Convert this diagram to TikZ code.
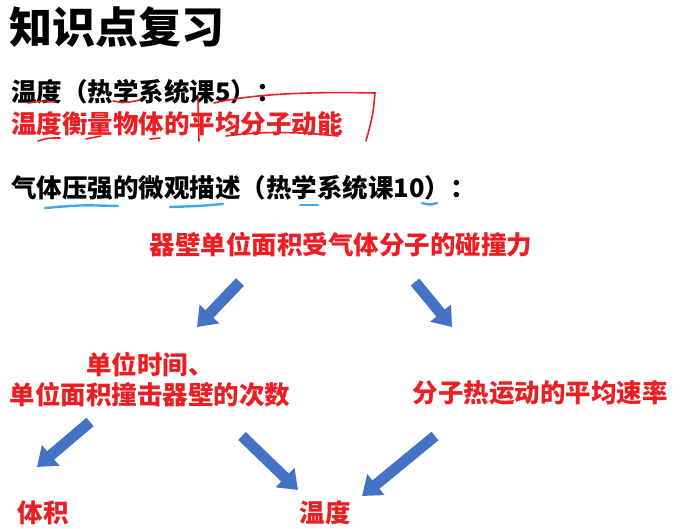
\documentclass[tikz,border=0pt]{standalone}
\usepackage{fontspec}
\setmainfont{Noto Sans CJK SC}
\usetikzlibrary{arrows.meta}
\definecolor{rd}{RGB}{235,30,35}
\definecolor{ab}{RGB}{68,114,196}
\definecolor{lb}{RGB}{60,170,230}
\tikzset{
  t/.style={anchor=west,inner sep=0pt,font=\fontsize{25.5}{28}\selectfont\bfseries},
  rt/.style={t,text=rd},
  bigarrow/.style={draw=ab,line width=11pt,-{Triangle[width=26pt,length=18pt]}},
  redpen/.style={draw=rd,line width=1.6pt,line cap=round},
  bluepen/.style={draw=lb,line width=2.4pt,line cap=round}
}
\begin{document}
\begin{tikzpicture}[x=1pt,y=-1pt]
\useasboundingbox (0,0) rectangle (684,528);
\node[anchor=west,inner sep=0pt,font=\fontsize{43}{46}\selectfont\bfseries] (title) at (9,27) {知识点复习};
\node[t] (l1) at (11,92) {温度（热学系统课5）：};
\node[rt] (l2) at (11,124) {温度衡量物体的平均分子动能};
\node[t] (l3) at (11,188) {气体压强的微观描述（热学系统课10）：};
% red pen marks
\draw[redpen] (28,103) .. controls (40,101) .. (55,102);
\draw[redpen] (113,101) .. controls (125,103) .. (140,100);
\draw[redpen] (38,141) .. controls (48,138) .. (60,138);
\draw[redpen] (86,139) .. controls (93,137) .. (101,136);
\draw[redpen] (150,139) -- (160,138);
\draw[redpen] (226,136) .. controls (270,130) and (310,133) .. (338,136);
\draw[redpen] (198,99) -- (199,141);
\draw[redpen] (214,103) .. controls (260,92) and (330,92) .. (375,93) .. controls (373,115) .. (366,141);
% blue pen marks
\draw[bluepen] (45,208) .. controls (80,205) .. (118,206);
\draw[bluepen] (170,207) .. controls (200,206) .. (223,204);
\draw[bluepen] (300,205) -- (318,205);
\draw[bluepen] (422,203) .. controls (430,205) .. (437,203);
% diagram
\node[rt,anchor=center] (top) at (341,245) {器壁单位面积受气体分子的碰撞力};
\node[rt,anchor=center,align=center] (left) at (150,380) {单位时间、\\[2pt]单位面积撞击器壁的次数};
\node[rt,anchor=center] (right) at (540,393) {分子热运动的平均速率};
\node[rt,anchor=center] (vol) at (43,513) {体积};
\node[rt,anchor=center] (temp) at (325,513) {温度};
\coordinate (a1s) at (240,282); \coordinate (a1e) at (197,327);
\coordinate (a2s) at (415,282); \coordinate (a2e) at (452,327);
\coordinate (a3s) at (90,422);  \coordinate (a3e) at (37,467);
\coordinate (a4s) at (242,436); \coordinate (a4e) at (298,490);
\coordinate (a5s) at (435,436); \coordinate (a5e) at (362,496);
\draw[bigarrow] (a1s) -- (a1e);
\draw[bigarrow] (a2s) -- (a2e);
\draw[bigarrow] (a3s) -- (a3e);
\draw[bigarrow] (a4s) -- (a4e);
\draw[bigarrow] (a5s) -- (a5e);
\end{tikzpicture}
\end{document}
